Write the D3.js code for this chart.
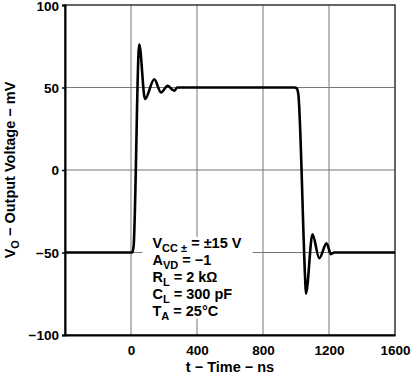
<!DOCTYPE html>
<html>
<head>
<meta charset="utf-8">
<script src="https://cdn.jsdelivr.net/npm/d3@7"></script>
<style>
  body { margin: 0; background: #fff; }
  text { font-family: "Liberation Sans", Arial, sans-serif; font-weight: bold; fill: #000; }
</style>
</head>
<body>
<div id="chart"></div>
<script>
// waveform (ns, mV)
const timeNs = [-400, 8, 16, 50, 85, 141, 182, 222, 262, 281,
                992, 1004, 1014, 1055, 1060, 1100, 1141, 1185, 1212, 1232, 1600];
const voltMv = [-50, -50, -46, 76, 43, 55, 47, 51, 48, 50,
                50, 49.5, 46, -65, -75, -39, -53.5, -44.5, -51, -50, -50];

const xTicks = [0, 400, 800, 1200, 1600];
const yTicks = [-100, -50, 0, 50, 100];
const xGrid = [0, 400, 800, 1200];
const yGrid = [-50, 0, 50];

const notes = [
    {main: "V", sub: "CC \u00b1", rest: " = \u00b115 V"},
    {main: "A", sub: "VD", rest: " = \u22121"},
    {main: "R", sub: "L", rest: " = 2 k\u2126"},
    {main: "C", sub: "L", rest: " = 300 pF"},
    {main: "T", sub: "A", rest: " = 25\u00b0C"}
];

let margin = {top: 5, right: 16, bottom: 42, left: 65};
let width = 411 - margin.left - margin.right;
let height = 377 - margin.top - margin.bottom;

let svg = d3.select("#chart").append("svg")
    .attr("width", 411)
    .attr("height", 377)
    .append("g")
    .attr("transform", `translate(${margin.left}, ${margin.top})`);

let x = d3.scaleLinear().domain([-400, 1600]).range([0, width]);
let y = d3.scaleLinear().domain([-100, 100]).range([height, 0]);

// grid
svg.selectAll(".vgrid").data(xGrid).enter().append("line")
    .attr("x1", d => x(d)).attr("x2", d => x(d))
    .attr("y1", 0).attr("y2", height)
    .attr("stroke", "#777").attr("stroke-width", 1);
svg.selectAll(".hgrid").data(yGrid).enter().append("line")
    .attr("x1", 0).attr("x2", width)
    .attr("y1", d => y(d)).attr("y2", d => y(d))
    .attr("stroke", "#777").attr("stroke-width", 1);

// white box behind the conditions text
svg.append("rect")
    .attr("x", x(70)).attr("y", y(-40.5))
    .attr("width", x(738) - x(70)).attr("height", y(-90) - y(-40.5))
    .attr("fill", "#fff");

// frame
svg.append("rect")
    .attr("x", 0).attr("y", 0).attr("width", width).attr("height", height)
    .attr("fill", "none").attr("stroke", "#333").attr("stroke-width", 1.5);

// axes
let xAxis = d3.axisBottom(x).tickValues(xTicks).tickSize(0).tickPadding(10)
    .tickFormat(d3.format("d"));
let yAxis = d3.axisLeft(y).tickValues(yTicks).tickSize(3).tickPadding(3)
    .tickFormat(d => d < 0 ? "\u2212" + Math.abs(d) : d);

let gx = svg.append("g").attr("transform", `translate(0, ${height})`).call(xAxis);
let gy = svg.append("g").call(yAxis);
[gx, gy].forEach(g => {
    g.select(".domain").attr("stroke", "#000").attr("stroke-width", 2);
    g.selectAll(".tick line").attr("stroke", "#000").attr("stroke-width", 1.5);
    g.selectAll(".tick text").style("font-size", "13.5px").style("font-weight", "bold")
        .style("font-family", "Liberation Sans, Arial, sans-serif").attr("fill", "#000");
});
gy.selectAll(".tick text").attr("dy", d => d === 100 ? "0.42em" : "0.35em");

// waveform
let pts = timeNs.map((t, i) => [t, voltMv[i]]);
let line = d3.line()
    .x(d => x(d[0]))
    .y(d => y(d[1]))
    .curve(d3.curveMonotoneX);
svg.append("path")
    .datum(pts)
    .attr("d", line)
    .attr("fill", "none")
    .attr("stroke", "#000")
    .attr("stroke-width", 2.6)
    .attr("stroke-linejoin", "round");

// conditions text
let notesG = svg.append("g").attr("transform", `translate(${x(130)}, ${y(-47)})`);
notes.forEach((n, i) => {
    let t = notesG.append("text")
        .attr("y", i * 17)
        .style("font-size", "14.5px");
    t.append("tspan").text(n.main);
    t.append("tspan").text(n.sub).attr("dy", 4).style("font-size", "11px");
    t.append("tspan").text(n.rest).attr("dy", -4);
});

// axis titles
svg.append("text")
    .attr("x", width / 2)
    .attr("y", height + 37)
    .attr("text-anchor", "middle")
    .style("font-size", "14.5px")
    .text("t \u2212 Time \u2212 ns");

let yt = svg.append("text")
    .attr("transform", `translate(${-50}, ${height / 2}) rotate(-90)`)
    .attr("text-anchor", "middle")
    .style("font-size", "14.5px");
yt.append("tspan").text("V");
yt.append("tspan").text("O").attr("dy", 4).style("font-size", "11px");
yt.append("tspan").text(" \u2212 Output Voltage \u2212 mV").attr("dy", -4);
</script>
</body>
</html>
